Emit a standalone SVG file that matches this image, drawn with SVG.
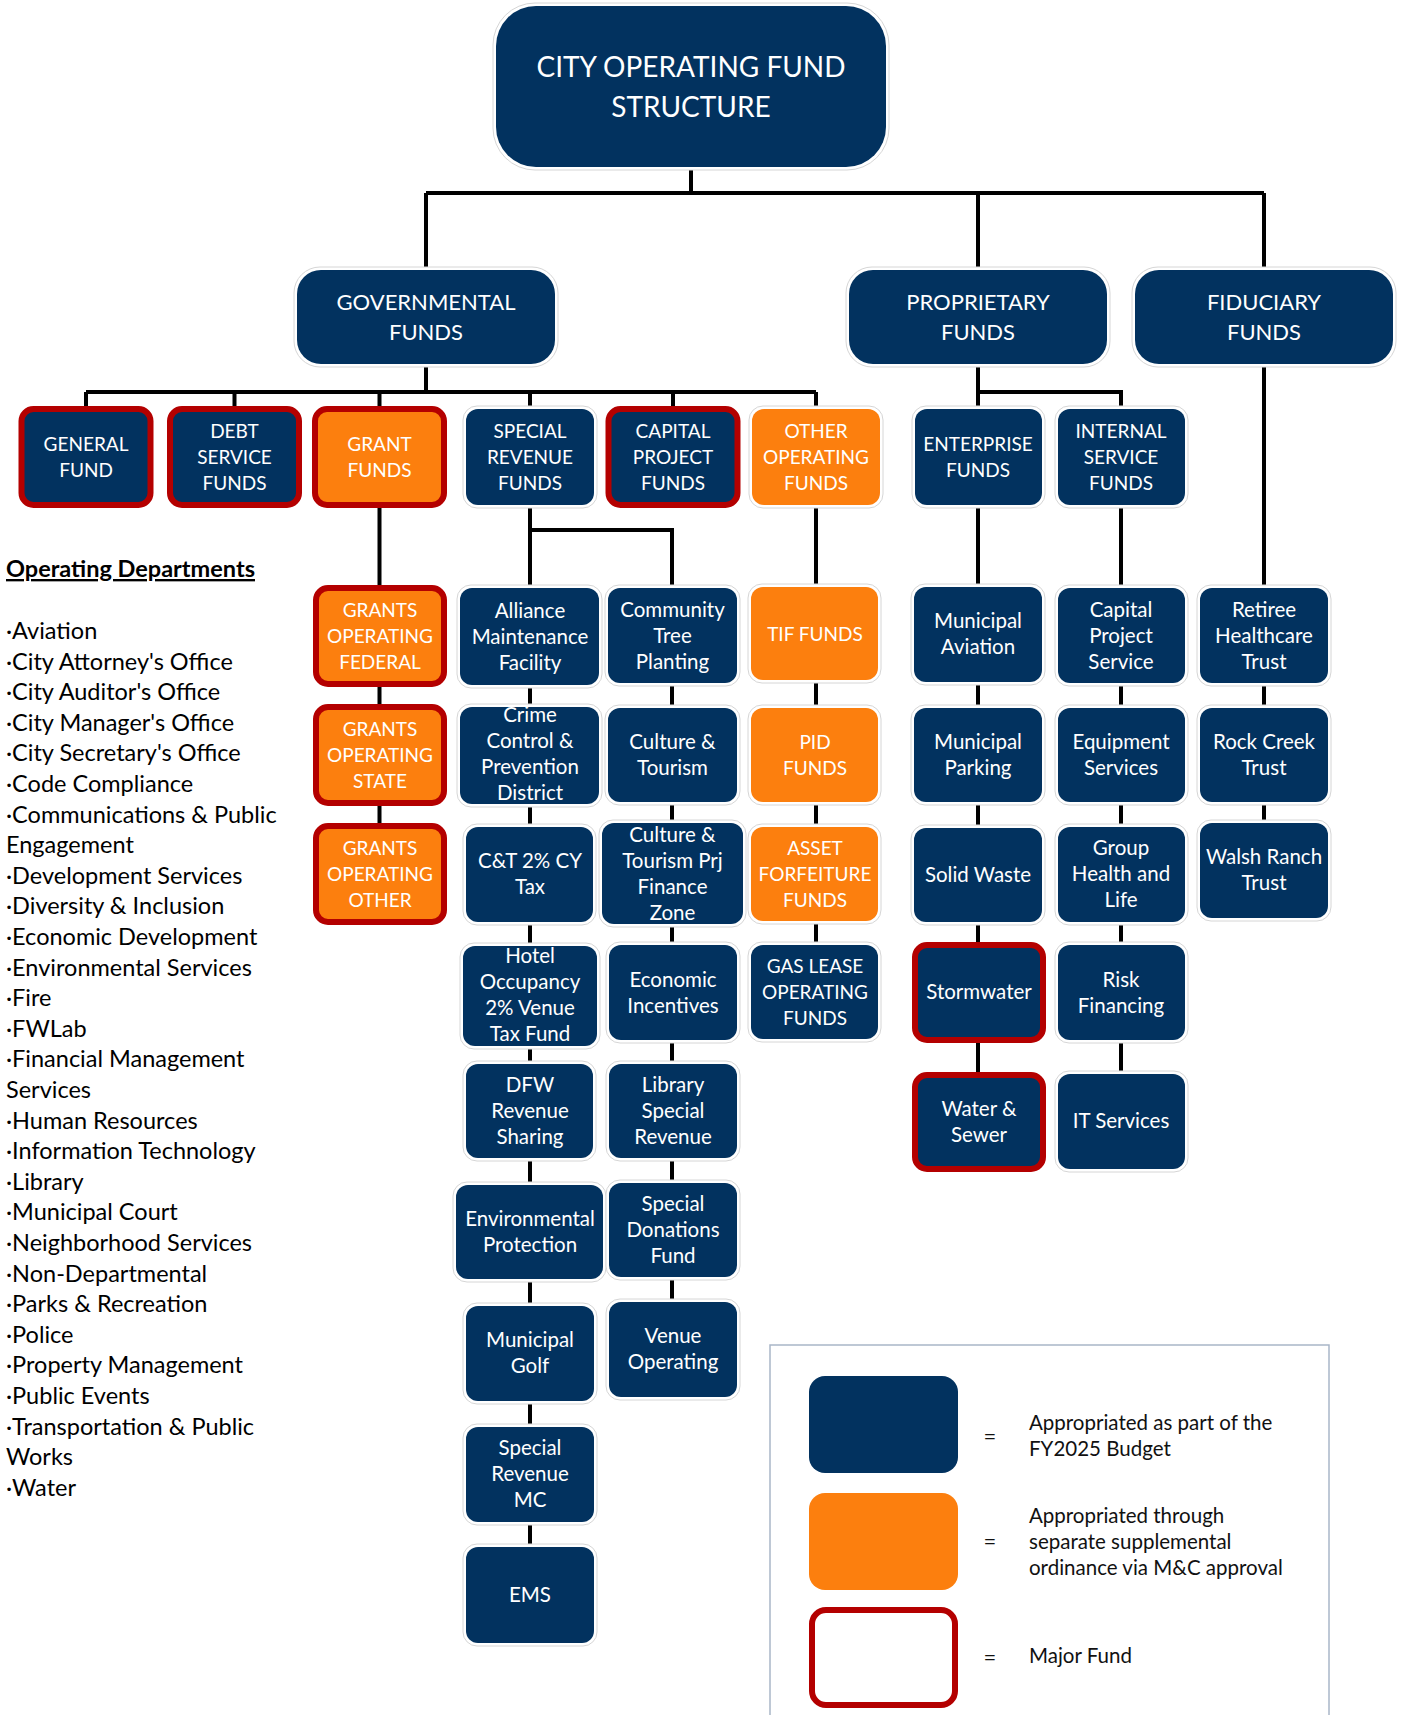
<svg xmlns="http://www.w3.org/2000/svg" width="1402" height="1715" viewBox="0 0 1402 1715">
<style>
.n{fill:#02325F}
.o{fill:#FC7F0E}
.maj{stroke:#B40000;stroke-width:6}
.halo{fill:#fff;stroke:#d6d6d6;stroke-width:1}
.t{font-family:Lato,"Liberation Sans",sans-serif;fill:#fff;font-size:20.5px;text-anchor:middle}
.u{font-size:19px}
.t2{font-family:Lato,"Liberation Sans",sans-serif;fill:#fff;font-size:22px;text-anchor:middle}
.t1{font-family:Lato,"Liberation Sans",sans-serif;fill:#fff;font-size:28px;text-anchor:middle}
.c{stroke:#000;stroke-width:4;fill:none}
.lg{font-family:Lato,"Liberation Sans",sans-serif;fill:#111;font-size:20.5px}
.eq{font-family:Lato,"Liberation Sans",sans-serif;fill:#111;font-size:22px;text-anchor:middle}
.dept{font-family:Lato,"Liberation Sans",sans-serif;fill:#000;font-size:23.5px}
</style>
<rect width="1402" height="1715" fill="#fff"/>
<g id="connectors">
<path class="c" d="M691,167V193M426,193H1264M426,193V270M978,193V270M1264,193V270"/>
<path class="c" d="M426,364V392M86,392H816M86,392V409M234.5,392V409M379.5,392V409M530,392V409M673,392V409M816,392V409"/>
<path class="c" d="M978,364V409M978,392H1121V409M1264,364V823"/>
<path class="c" d="M379.5,505V826M530,505V1547M530,530H672V1302M816,505V945M978,505V1075M1121,505V1074"/>
</g>
<g id="city-operating-fund">
<rect class="halo" x="493" y="3" width="396" height="167" rx="42"/>
<rect class="n" x="496" y="6" width="390" height="161" rx="40"/>
<text class="t1"><tspan x="691" y="77">CITY OPERATING FUND</tspan><tspan x="691" y="117">STRUCTURE</tspan></text>
</g>
<g id="governmental-funds">
<rect class="halo" x="294" y="267" width="264" height="100" rx="26"/>
<rect class="n" x="297" y="270" width="258" height="94" rx="24"/>
<text class="t2"><tspan x="426" y="310">GOVERNMENTAL</tspan><tspan x="426" y="340">FUNDS</tspan></text>
</g>
<g id="proprietary-funds">
<rect class="halo" x="846" y="267" width="264" height="100" rx="26"/>
<rect class="n" x="849" y="270" width="258" height="94" rx="24"/>
<text class="t2"><tspan x="978" y="310">PROPRIETARY</tspan><tspan x="978" y="340">FUNDS</tspan></text>
</g>
<g id="fiduciary-funds">
<rect class="halo" x="1132" y="267" width="264" height="100" rx="26"/>
<rect class="n" x="1135" y="270" width="258" height="94" rx="24"/>
<text class="t2"><tspan x="1264" y="310">FIDUCIARY</tspan><tspan x="1264" y="340">FUNDS</tspan></text>
</g>
<g id="general-fund">
<rect class="n maj" x="21.5" y="409" width="129" height="96" rx="12"/>
<text class="t u"><tspan x="86" y="451">GENERAL</tspan><tspan x="86" y="477">FUND</tspan></text>
</g>
<g id="debt-service-funds">
<rect class="n maj" x="170" y="409" width="129" height="96" rx="12"/>
<text class="t u"><tspan x="234.5" y="438">DEBT</tspan><tspan x="234.5" y="464">SERVICE</tspan><tspan x="234.5" y="490">FUNDS</tspan></text>
</g>
<g id="grant-funds">
<rect class="o maj" x="315" y="409" width="129" height="96" rx="12"/>
<text class="t u"><tspan x="379.5" y="451">GRANT</tspan><tspan x="379.5" y="477">FUNDS</tspan></text>
</g>
<g id="special-revenue-funds">
<rect class="halo" x="463" y="406" width="134" height="102" rx="14"/>
<rect class="n" x="466" y="409" width="128" height="96" rx="12"/>
<text class="t u"><tspan x="530" y="438">SPECIAL</tspan><tspan x="530" y="464">REVENUE</tspan><tspan x="530" y="490">FUNDS</tspan></text>
</g>
<g id="capital-project-funds">
<rect class="n maj" x="608.5" y="409" width="129" height="96" rx="12"/>
<text class="t u"><tspan x="673" y="438">CAPITAL</tspan><tspan x="673" y="464">PROJECT</tspan><tspan x="673" y="490">FUNDS</tspan></text>
</g>
<g id="other-operating-funds">
<rect class="halo" x="749" y="406" width="134" height="102" rx="14"/>
<rect class="o" x="752" y="409" width="128" height="96" rx="12"/>
<text class="t u"><tspan x="816" y="438">OTHER</tspan><tspan x="816" y="464">OPERATING</tspan><tspan x="816" y="490">FUNDS</tspan></text>
</g>
<g id="enterprise-funds">
<rect class="halo" x="912" y="406" width="133" height="102" rx="14"/>
<rect class="n" x="915" y="409" width="127" height="96" rx="12"/>
<text class="t u"><tspan x="978" y="451">ENTERPRISE</tspan><tspan x="978" y="477">FUNDS</tspan></text>
</g>
<g id="internal-service-funds">
<rect class="halo" x="1055" y="406" width="133" height="102" rx="14"/>
<rect class="n" x="1058" y="409" width="127" height="96" rx="12"/>
<text class="t u"><tspan x="1121" y="438">INTERNAL</tspan><tspan x="1121" y="464">SERVICE</tspan><tspan x="1121" y="490">FUNDS</tspan></text>
</g>
<g id="grants-operating-federal">
<rect class="o maj" x="316" y="588" width="128" height="96" rx="12"/>
<text class="t u"><tspan x="380" y="617">GRANTS</tspan><tspan x="380" y="643">OPERATING</tspan><tspan x="380" y="669">FEDERAL</tspan></text>
</g>
<g id="grants-operating-state">
<rect class="o maj" x="316" y="707" width="128" height="96" rx="12"/>
<text class="t u"><tspan x="380" y="736">GRANTS</tspan><tspan x="380" y="762">OPERATING</tspan><tspan x="380" y="788">STATE</tspan></text>
</g>
<g id="grants-operating-other">
<rect class="o maj" x="316" y="826" width="128" height="96" rx="12"/>
<text class="t u"><tspan x="380" y="855">GRANTS</tspan><tspan x="380" y="881">OPERATING</tspan><tspan x="380" y="907">OTHER</tspan></text>
</g>
<g id="alliance-maintenance-facility">
<rect class="halo" x="457" y="585" width="145" height="103" rx="14"/>
<rect class="n" x="460" y="588" width="139" height="97" rx="12"/>
<text class="t"><tspan x="530" y="618">Alliance</tspan><tspan x="530" y="644">Maintenance</tspan><tspan x="530" y="670">Facility</tspan></text>
</g>
<g id="crime-control-prevention-district">
<rect class="halo" x="457" y="704" width="145" height="103" rx="14"/>
<rect class="n" x="460" y="707" width="139" height="97" rx="12"/>
<text class="t"><tspan x="530" y="722">Crime</tspan><tspan x="530" y="748">Control &amp;</tspan><tspan x="530" y="774">Prevention</tspan><tspan x="530" y="800">District</tspan></text>
</g>
<g id="ct-2pct-cy-tax">
<rect class="halo" x="463" y="824" width="133" height="101" rx="14"/>
<rect class="n" x="466" y="827" width="127" height="95" rx="12"/>
<text class="t"><tspan x="530" y="868">C&amp;T 2% CY</tspan><tspan x="530" y="894">Tax</tspan></text>
</g>
<g id="hotel-occupancy-venue-tax-fund">
<rect class="halo" x="460" y="943" width="140" height="106" rx="14"/>
<rect class="n" x="463" y="946" width="134" height="100" rx="12"/>
<text class="t"><tspan x="530" y="963">Hotel</tspan><tspan x="530" y="989">Occupancy</tspan><tspan x="530" y="1015">2% Venue</tspan><tspan x="530" y="1041">Tax Fund</tspan></text>
</g>
<g id="dfw-revenue-sharing">
<rect class="halo" x="463" y="1061" width="133" height="100" rx="14"/>
<rect class="n" x="466" y="1064" width="127" height="94" rx="12"/>
<text class="t"><tspan x="530" y="1092">DFW</tspan><tspan x="530" y="1118">Revenue</tspan><tspan x="530" y="1144">Sharing</tspan></text>
</g>
<g id="environmental-protection">
<rect class="halo" x="453" y="1182" width="153" height="100" rx="14"/>
<rect class="n" x="456" y="1185" width="147" height="94" rx="12"/>
<text class="t"><tspan x="530" y="1226">Environmental</tspan><tspan x="530" y="1252">Protection</tspan></text>
</g>
<g id="municipal-golf">
<rect class="halo" x="463" y="1303" width="134" height="101" rx="14"/>
<rect class="n" x="466" y="1306" width="128" height="95" rx="12"/>
<text class="t"><tspan x="530" y="1347">Municipal</tspan><tspan x="530" y="1373">Golf</tspan></text>
</g>
<g id="special-revenue-mc">
<rect class="halo" x="463" y="1424" width="134" height="101" rx="14"/>
<rect class="n" x="466" y="1427" width="128" height="95" rx="12"/>
<text class="t"><tspan x="530" y="1455">Special</tspan><tspan x="530" y="1481">Revenue</tspan><tspan x="530" y="1507">MC</tspan></text>
</g>
<g id="ems">
<rect class="halo" x="463" y="1544" width="134" height="102" rx="14"/>
<rect class="n" x="466" y="1547" width="128" height="96" rx="12"/>
<text class="t"><tspan x="530" y="1602">EMS</tspan></text>
</g>
<g id="community-tree-planting">
<rect class="halo" x="605" y="585" width="135" height="101" rx="14"/>
<rect class="n" x="608" y="588" width="129" height="95" rx="12"/>
<text class="t"><tspan x="672.5" y="617">Community</tspan><tspan x="672.5" y="643">Tree</tspan><tspan x="672.5" y="669">Planting</tspan></text>
</g>
<g id="culture-tourism">
<rect class="halo" x="605" y="705" width="135" height="100" rx="14"/>
<rect class="n" x="608" y="708" width="129" height="94" rx="12"/>
<text class="t"><tspan x="672.5" y="749">Culture &amp;</tspan><tspan x="672.5" y="775">Tourism</tspan></text>
</g>
<g id="culture-tourism-prj-finance-zone">
<rect class="halo" x="599" y="820" width="147" height="107" rx="14"/>
<rect class="n" x="602" y="823" width="141" height="101" rx="12"/>
<text class="t"><tspan x="672.5" y="842">Culture &amp;</tspan><tspan x="672.5" y="868">Tourism Prj</tspan><tspan x="672.5" y="894">Finance</tspan><tspan x="672.5" y="920">Zone</tspan></text>
</g>
<g id="economic-incentives">
<rect class="halo" x="606" y="942" width="134" height="101" rx="14"/>
<rect class="n" x="609" y="945" width="128" height="95" rx="12"/>
<text class="t"><tspan x="673" y="987">Economic</tspan><tspan x="673" y="1013">Incentives</tspan></text>
</g>
<g id="library-special-revenue">
<rect class="halo" x="606" y="1061" width="134" height="100" rx="14"/>
<rect class="n" x="609" y="1064" width="128" height="94" rx="12"/>
<text class="t"><tspan x="673" y="1092">Library</tspan><tspan x="673" y="1118">Special</tspan><tspan x="673" y="1144">Revenue</tspan></text>
</g>
<g id="special-donations-fund">
<rect class="halo" x="606" y="1180" width="134" height="100" rx="14"/>
<rect class="n" x="609" y="1183" width="128" height="94" rx="12"/>
<text class="t"><tspan x="673" y="1211">Special</tspan><tspan x="673" y="1237">Donations</tspan><tspan x="673" y="1263">Fund</tspan></text>
</g>
<g id="venue-operating">
<rect class="halo" x="606" y="1299" width="134" height="101" rx="14"/>
<rect class="n" x="609" y="1302" width="128" height="95" rx="12"/>
<text class="t"><tspan x="673" y="1343">Venue</tspan><tspan x="673" y="1369">Operating</tspan></text>
</g>
<g id="tif-funds">
<rect class="halo" x="748" y="584" width="133" height="99" rx="14"/>
<rect class="o" x="751" y="587" width="127" height="93" rx="12"/>
<text class="t u"><tspan x="815" y="641">TIF FUNDS</tspan></text>
</g>
<g id="pid-funds">
<rect class="halo" x="748" y="705" width="133" height="100" rx="14"/>
<rect class="o" x="751" y="708" width="127" height="94" rx="12"/>
<text class="t u"><tspan x="815" y="749">PID</tspan><tspan x="815" y="775">FUNDS</tspan></text>
</g>
<g id="asset-forfeiture-funds">
<rect class="halo" x="748" y="824" width="133" height="100" rx="14"/>
<rect class="o" x="751" y="827" width="127" height="94" rx="12"/>
<text class="t u"><tspan x="815" y="855">ASSET</tspan><tspan x="815" y="881">FORFEITURE</tspan><tspan x="815" y="907">FUNDS</tspan></text>
</g>
<g id="gas-lease-operating-funds">
<rect class="halo" x="748" y="942" width="133" height="100" rx="14"/>
<rect class="n" x="751" y="945" width="127" height="94" rx="12"/>
<text class="t u"><tspan x="815" y="973">GAS LEASE</tspan><tspan x="815" y="999">OPERATING</tspan><tspan x="815" y="1025">FUNDS</tspan></text>
</g>
<g id="municipal-aviation">
<rect class="halo" x="911" y="584" width="134" height="101" rx="14"/>
<rect class="n" x="914" y="587" width="128" height="95" rx="12"/>
<text class="t"><tspan x="978" y="628">Municipal</tspan><tspan x="978" y="654">Aviation</tspan></text>
</g>
<g id="municipal-parking">
<rect class="halo" x="911" y="705" width="134" height="100" rx="14"/>
<rect class="n" x="914" y="708" width="128" height="94" rx="12"/>
<text class="t"><tspan x="978" y="749">Municipal</tspan><tspan x="978" y="775">Parking</tspan></text>
</g>
<g id="solid-waste">
<rect class="halo" x="911" y="825" width="134" height="100" rx="14"/>
<rect class="n" x="914" y="828" width="128" height="94" rx="12"/>
<text class="t"><tspan x="978" y="882">Solid Waste</tspan></text>
</g>
<g id="stormwater">
<rect class="n maj" x="915" y="945" width="128" height="95" rx="12"/>
<text class="t"><tspan x="979" y="999">Stormwater</tspan></text>
</g>
<g id="water-sewer">
<rect class="n maj" x="915" y="1075" width="128" height="94" rx="12"/>
<text class="t"><tspan x="979" y="1116">Water &amp;</tspan><tspan x="979" y="1142">Sewer</tspan></text>
</g>
<g id="capital-project-service">
<rect class="halo" x="1055" y="585" width="133" height="101" rx="14"/>
<rect class="n" x="1058" y="588" width="127" height="95" rx="12"/>
<text class="t"><tspan x="1121" y="617">Capital</tspan><tspan x="1121" y="643">Project</tspan><tspan x="1121" y="669">Service</tspan></text>
</g>
<g id="equipment-services">
<rect class="halo" x="1055" y="705" width="133" height="100" rx="14"/>
<rect class="n" x="1058" y="708" width="127" height="94" rx="12"/>
<text class="t"><tspan x="1121" y="749">Equipment</tspan><tspan x="1121" y="775">Services</tspan></text>
</g>
<g id="group-health-and-life">
<rect class="halo" x="1055" y="824" width="133" height="101" rx="14"/>
<rect class="n" x="1058" y="827" width="127" height="95" rx="12"/>
<text class="t"><tspan x="1121" y="855">Group</tspan><tspan x="1121" y="881">Health and</tspan><tspan x="1121" y="907">Life</tspan></text>
</g>
<g id="risk-financing">
<rect class="halo" x="1055" y="942" width="133" height="101" rx="14"/>
<rect class="n" x="1058" y="945" width="127" height="95" rx="12"/>
<text class="t"><tspan x="1121" y="987">Risk</tspan><tspan x="1121" y="1013">Financing</tspan></text>
</g>
<g id="it-services">
<rect class="halo" x="1055" y="1071" width="133" height="101" rx="14"/>
<rect class="n" x="1058" y="1074" width="127" height="95" rx="12"/>
<text class="t"><tspan x="1121" y="1128">IT Services</tspan></text>
</g>
<g id="retiree-healthcare-trust">
<rect class="halo" x="1197" y="585" width="134" height="101" rx="14"/>
<rect class="n" x="1200" y="588" width="128" height="95" rx="12"/>
<text class="t"><tspan x="1264" y="617">Retiree</tspan><tspan x="1264" y="643">Healthcare</tspan><tspan x="1264" y="669">Trust</tspan></text>
</g>
<g id="rock-creek-trust">
<rect class="halo" x="1197" y="705" width="134" height="100" rx="14"/>
<rect class="n" x="1200" y="708" width="128" height="94" rx="12"/>
<text class="t"><tspan x="1264" y="749">Rock Creek</tspan><tspan x="1264" y="775">Trust</tspan></text>
</g>
<g id="walsh-ranch-trust">
<rect class="halo" x="1197" y="820" width="134" height="101" rx="14"/>
<rect class="n" x="1200" y="823" width="128" height="95" rx="12"/>
<text class="t"><tspan x="1264" y="864">Walsh Ranch</tspan><tspan x="1264" y="890">Trust</tspan></text>
</g>
<g id="operating-departments">
<text class="dept" x="6" y="577" font-weight="bold" font-size="24" text-decoration="underline">Operating Departments</text>
<text class="dept"><tspan x="6" y="639">·Aviation</tspan><tspan x="6" dy="30.6">·City Attorney's Office</tspan><tspan x="6" dy="30.6">·City Auditor's Office</tspan><tspan x="6" dy="30.6">·City Manager's Office</tspan><tspan x="6" dy="30.6">·City Secretary's Office</tspan><tspan x="6" dy="30.6">·Code Compliance</tspan><tspan x="6" dy="30.6">·Communications &amp; Public</tspan><tspan x="6" dy="30.6">Engagement</tspan><tspan x="6" dy="30.6">·Development Services</tspan><tspan x="6" dy="30.6">·Diversity &amp; Inclusion</tspan><tspan x="6" dy="30.6">·Economic Development</tspan><tspan x="6" dy="30.6">·Environmental Services</tspan><tspan x="6" dy="30.6">·Fire</tspan><tspan x="6" dy="30.6">·FWLab</tspan><tspan x="6" dy="30.6">·Financial Management</tspan><tspan x="6" dy="30.6">Services</tspan><tspan x="6" dy="30.6">·Human Resources</tspan><tspan x="6" dy="30.6">·Information Technology</tspan><tspan x="6" dy="30.6">·Library</tspan><tspan x="6" dy="30.6">·Municipal Court</tspan><tspan x="6" dy="30.6">·Neighborhood Services</tspan><tspan x="6" dy="30.6">·Non-Departmental</tspan><tspan x="6" dy="30.6">·Parks &amp; Recreation</tspan><tspan x="6" dy="30.6">·Police</tspan><tspan x="6" dy="30.6">·Property Management</tspan><tspan x="6" dy="30.6">·Public Events</tspan><tspan x="6" dy="30.6">·Transportation &amp; Public</tspan><tspan x="6" dy="30.6">Works</tspan><tspan x="6" dy="30.6">·Water</tspan></text>
</g>
<g id="legend">
<rect x="770" y="1345" width="559" height="400" fill="none" stroke="#A9B6C8" stroke-width="1.5"/>
<rect class="n" x="809" y="1376" width="149" height="97" rx="16"/>
<rect class="o" x="809" y="1493" width="149" height="97" rx="16"/>
<rect x="812" y="1610" width="143" height="95" rx="14" fill="#fff" stroke="#B40000" stroke-width="6"/>
<text class="eq"><tspan x="990" y="1444">=</tspan><tspan x="990" y="1549">=</tspan><tspan x="990" y="1665">=</tspan></text>
<text class="lg"><tspan x="1029" y="1430">Appropriated as part of the</tspan><tspan x="1029" y="1456">FY2025 Budget</tspan><tspan x="1029" y="1523">Appropriated through</tspan><tspan x="1029" y="1549">separate supplemental</tspan><tspan x="1029" y="1575">ordinance via M&amp;C approval</tspan><tspan x="1029" y="1663">Major Fund</tspan></text>
</g>
</svg>
